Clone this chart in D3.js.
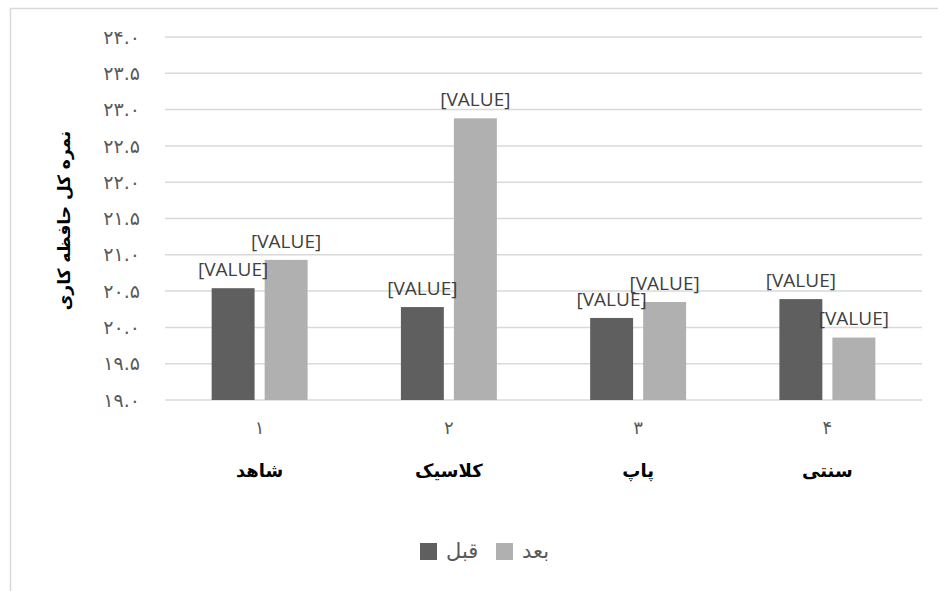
<!DOCTYPE html>
<html lang="fa">
<head>
<meta charset="UTF-8">
<title>نمره کل حافظه کاری</title>
<script src="https://cdn.jsdelivr.net/npm/d3@7"></script>
<style>
    body { margin: 0; background: #fff; }
    svg { display: block; }
</style>
</head>
<body>
<div id="chart"></div>
<script>
// data
const categories = ["شاهد", "کلاسیک", "پاپ", "سنتی"];
const categoryNums = ["۱", "۲", "۳", "۴"];
const seriesNames = ["قبل", "بعد"];
const before = [20.54, 20.28, 20.13, 20.39];
const after = [20.93, 22.88, 20.35, 19.86];
const yTicks = [19.0, 19.5, 20.0, 20.5, 21.0, 21.5, 22.0, 22.5, 23.0, 23.5, 24.0];
const yTitle = "نمره کل حافظه کاری";
const labelText = "[VALUE]";

const colors = ["#5f5f5f", "#b0b0b0"];
const faFont = "'DejaVu Sans', sans-serif";

const width = 938, height = 591;
const plot = { left: 165, right: 922, top: 37, bottom: 400 };

const toFa = s => s.replace(/[0-9]/g, d => "۰۱۲۳۴۵۶۷۸۹"[+d]);

const svg = d3.select("#chart").append("svg")
    .attr("width", width)
    .attr("height", height);

// outer chart frame (runs off the right / bottom edge)
svg.append("rect")
    .attr("x", 10.5).attr("y", 8.5)
    .attr("width", 1000).attr("height", 1000)
    .attr("fill", "#fff")
    .attr("stroke", "#d9d9d9")
    .attr("stroke-width", 1.5);

const x = d3.scaleBand()
    .domain(d3.range(categories.length))
    .range([plot.left, plot.right])
    .paddingInner(0).paddingOuter(0);

const xs = d3.scaleBand()
    .domain(seriesNames)
    .range([0, x.bandwidth()])
    .paddingInner(0.19)
    .paddingOuter(0.88);

const y = d3.scaleLinear()
    .domain([19, 24])
    .range([plot.bottom, plot.top]);

// gridlines
svg.append("g")
    .selectAll("line")
    .data(yTicks)
    .join("line")
    .attr("x1", plot.left).attr("x2", plot.right)
    .attr("y1", d => y(d)).attr("y2", d => y(d))
    .attr("stroke", "#d9d9d9")
    .attr("stroke-width", 1.5);

// y tick labels
svg.append("g")
    .selectAll("text")
    .data(yTicks)
    .join("text")
    .attr("x", 140)
    .attr("y", d => y(d))
    .attr("dy", "0.35em")
    .attr("text-anchor", "end")
    .attr("direction", "ltr")
    .attr("font-family", faFont)
    .attr("font-size", 19)
    .attr("fill", "#595959")
    .text(d => toFa(d3.format(".1f")(d)));

// y axis title
svg.append("text")
    .attr("transform", `translate(64,${(plot.top + plot.bottom) / 2 + 2}) rotate(-90)`)
    .attr("text-anchor", "middle")
    .attr("dy", "0.35em")
    .attr("font-family", faFont)
    .attr("font-weight", "bold")
    .attr("font-size", 17)
    .attr("fill", "#000")
    .text(yTitle);

// bars
const rows = categories.map((c, i) => ({
    i,
    values: [
        { key: seriesNames[0], value: before[i] },
        { key: seriesNames[1], value: after[i] }
    ]
}));

const groups = svg.append("g")
    .selectAll("g")
    .data(rows)
    .join("g")
    .attr("transform", d => `translate(${x(d.i)},0)`);

groups.selectAll("rect")
    .data(d => d.values)
    .join("rect")
    .attr("x", d => xs(d.key))
    .attr("width", xs.bandwidth())
    .attr("y", d => y(d.value))
    .attr("height", d => y(19) - y(d.value))
    .attr("fill", (d, i) => colors[i]);

// data labels (placeholder text as in the source)
groups.selectAll("text.lbl")
    .data(d => d.values)
    .join("text")
    .attr("class", "lbl")
    .attr("x", d => xs(d.key) + xs.bandwidth() / 2)
    .attr("y", d => y(d.value) - 19)
    .attr("dy", "0.35em")
    .attr("text-anchor", "middle")
    .attr("font-family", "'Open Sans', sans-serif")
    .attr("font-size", 19)
    .attr("fill", "#404040")
    .text(labelText);

// x axis: numbers and category names
svg.append("g")
    .selectAll("text")
    .data(categoryNums)
    .join("text")
    .attr("x", (d, i) => x(i) + x.bandwidth() / 2)
    .attr("y", 428)
    .attr("dy", "0.35em")
    .attr("text-anchor", "middle")
    .attr("font-family", faFont)
    .attr("font-size", 18)
    .attr("fill", "#595959")
    .text(d => d);

svg.append("g")
    .selectAll("text")
    .data(categories)
    .join("text")
    .attr("x", (d, i) => x(i) + x.bandwidth() / 2)
    .attr("y", 471)
    .attr("dy", "0.35em")
    .attr("text-anchor", "middle")
    .attr("font-family", faFont)
    .attr("font-weight", "bold")
    .attr("font-size", 18)
    .attr("fill", "#000")
    .text(d => d);

// legend
const legendX = [420, 496];
const legend = svg.append("g")
    .selectAll("g")
    .data(seriesNames)
    .join("g")
    .attr("transform", (d, i) => `translate(${legendX[i]},543)`);

legend.append("rect")
    .attr("width", 17).attr("height", 17)
    .attr("fill", (d, i) => colors[i]);

legend.append("text")
    .attr("x", 26)
    .attr("y", 8)
    .attr("dy", "0.35em")
    .attr("font-family", faFont)
    .attr("font-size", 21)
    .attr("fill", "#595959")
    .text(d => d);
</script>
</body>
</html>
